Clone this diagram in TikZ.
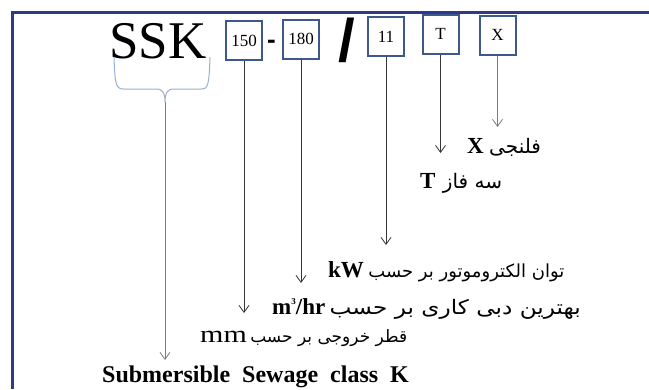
\documentclass[tikz,border=0pt]{standalone}
\usepackage{fontspec}
\setmainfont{Liberation Serif}
\newfontfamily\fa[Script=Arabic]{DejaVu Sans}
\newfontfamily\lsans{Liberation Sans}
\TeXXeTstate=1
\usetikzlibrary{arrows.meta}
\definecolor{framecol}{RGB}{46,56,140}
\definecolor{boxcol}{RGB}{62,88,140}
\definecolor{bracecol}{RGB}{150,175,210}
\definecolor{linecol}{RGB}{55,55,55}
\definecolor{lightline}{RGB}{125,125,125}
\begin{document}
\begin{tikzpicture}[x=1pt,y=-1pt,
  codebox/.style={draw=boxcol, line width=2pt, minimum width=36pt, minimum height=39pt, inner sep=0pt, font=\fontsize{17}{17}\selectfont},
  arr/.style={draw=linecol, line width=0.8pt, -{Straight Barb[length=7pt,width=10pt]}},
  lab/.style={font=\fontsize{23}{23}\selectfont\bfseries, inner sep=0pt, anchor=base west},
  fatext/.style={font=\fontsize{18}{18}\fa, inner sep=0pt, anchor=base west}]
\useasboundingbox (0,0) rectangle (649,389);
% frame
\draw[framecol, line width=3pt] (649,12) -- (12,12) -- (12,389);
% code
\node[font=\fontsize{53}{53}\selectfont, anchor=base west, inner sep=0pt] (ssk) at (109,58) {SSK};
\node[codebox] (b150) at (244,40.5) {150};
\node[font={\lsans\bfseries\fontsize{26}{26}\selectfont}, inner sep=0pt] (dash) at (271.5,44) {-};
\node[codebox] (b180) at (301,39) {180};
\node[font={\lsans\bfseries\fontsize{60}{60}\selectfont}, inner sep=0pt] (slash) at (346.5,40) {/};
\node[codebox] (b11) at (386,36.5) {11};
\node[codebox] (bT) at (440.5,34) {T};
\node[codebox] (bX) at (497.5,35) {X};
% brace
\draw[bracecol, line width=1pt] (114,57) .. controls (115,86) and (116,89) .. (124,89) -- (156,89) .. controls (163,89) and (165,93) .. (165,102) .. controls (165,93) and (167,89) .. (174,89) -- (201,89) .. controls (208,89) and (209,86) .. (210,57);
\coordinate (cusp) at (165,102);
% arrow tips
\coordinate (tX) at (497.5,127);
\coordinate (tT) at (440.5,153);
\coordinate (t11) at (386,245);
\coordinate (t180) at (301,283);
\coordinate (t150) at (244,313);
\coordinate (tS) at (165,360);
\draw[arr, draw=lightline] (bX.south) -- (tX);
\draw[arr] (bT.south) -- (tT);
\draw[arr] (b11.south) -- (t11);
\draw[arr] (b180.south) -- (t180);
\draw[arr] (b150.south) -- (t150);
\draw[arr, draw=lightline] (cusp) -- (tS);
% labels
\node[lab] (lx) at (467,153) {X};
\node[fatext, font=\fontsize{20}{20}\fa] (ax) at ([xshift=5pt]lx.base east) {\beginR فلنجی\endR};
\node[lab] (lt) at (420,188) {T};
\node[fatext, font=\fontsize{20}{20}\fa] (at) at ([xshift=7pt]lt.base east) {\beginR سه فاز\endR};
\node[lab] (lkw) at (328,277) {kW};
\node[fatext] (akw) at ([xshift=4pt]lkw.base east) {\beginR توان الکتروموتور بر حسب\endR};
\node[lab] (lm) at (272,314) {m\raisebox{10pt}{\fontsize{9}{9}\selectfont 3}/hr};
\node[fatext, font=\fontsize{20}{20}\fa] (am) at ([xshift=4pt]lm.base east) {\scalebox{1.16}[1]{\beginR بهترین دبی کاری بر حسب\endR}};
\node[font=\fontsize{24}{24}\selectfont, inner sep=0pt, anchor=base west] (lmm) at (200,342) {\scalebox{1.25}[1]{mm}};
\node[fatext, font=\fontsize{17}{17}\fa] (amm) at ([xshift=3pt]lmm.base east) {\beginR قطر خروجی بر حسب\endR};
\node[lab, font=\fontsize{24}{24}\selectfont\bfseries] (sub) at (102,382) {Submersible\ \ Sewage\ \ class\ \ K};
\end{tikzpicture}
\end{document}
